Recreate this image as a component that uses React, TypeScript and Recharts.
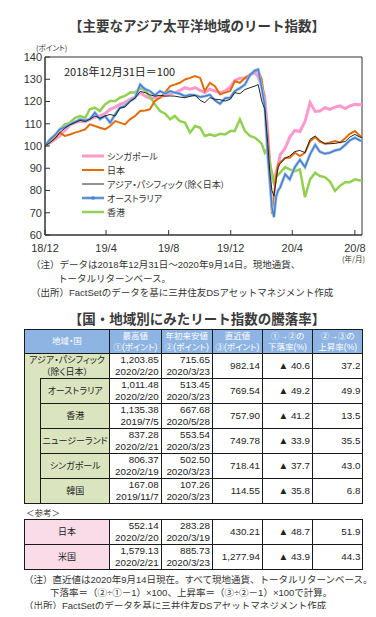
import React from 'react';
import { LineChart, Line, XAxis, YAxis, Legend, ReferenceArea } from 'recharts';

const FONT = "'Noto Sans CJK JP', 'Noto Sans', sans-serif";
// Latin first so that small multi-line cells keep compact line boxes
const TEXT_FONT = "'Liberation Sans', 'Noto Sans CJK JP', sans-serif";

// days since 2018/12/31 (index = 100 on that day)
const days = [
  0, 10, 20, 29, 39, 49, 59, 69, 79, 88,
  98, 108, 118, 128, 138, 147, 157, 167, 177, 187,
  197, 206, 216, 226, 236, 246, 255, 265, 275, 285,
  295, 305, 314, 324, 334, 344, 354, 364, 373, 383,
  393, 403, 413, 419, 426, 432, 438, 442, 446, 450,
  454, 458, 462, 472, 481, 491, 501, 511, 521, 531,
  540, 550, 560, 570, 580, 590, 599, 609, 619, 623,
];

const singapore = [
  100, 101.5, 103, 104.5, 107, 109.5, 110.5, 111.2, 110.8, 112,
  113, 113.5, 114.5, 116.5, 117.5, 118.7, 119.5, 121, 122, 124,
  122.4, 121.5, 121.7, 122, 122.8, 123.5, 124, 125, 126.2, 125.5,
  126.2, 125, 124, 125.5, 124.7, 124, 124.7, 126.5, 129.5, 130.5,
  130.5, 132, 133, 131, 127, 122, 105, 92, 86, 83.5,
  88, 91, 96, 99, 104, 107, 106.5, 111, 119.5, 115.5,
  115.7, 117.2, 116.5, 117.5, 118, 116.8, 118, 118.7, 118.5, 118.7,
];

const japan = [
  100, 102, 103.7, 106, 104.5, 105.2, 106, 106.7, 107.5, 109.7,
  109, 108.2, 107.5, 109, 111.2, 110.5, 109.7, 112, 113.5, 115.7,
  116, 116.5, 120.2, 121.7, 124, 126.9, 127.6, 128.4, 129.9, 130.6,
  131.4, 130.6, 124.7, 128.4, 126.9, 123.2, 124, 124.7, 129.1, 128.4,
  130.6, 132, 133.6, 134, 130, 118.7, 103.7, 85, 69.5, 78,
  85.8, 91.8, 92.5, 94.7, 94.7, 97, 95.5, 97, 102.2, 104,
  102, 101, 101.6, 102.2, 101.6, 103.5, 105.5, 106.7, 104.5, 104,
];

const asiaPacific = [
  100, 101.5, 103.5, 106, 108, 109.5, 110.5, 111.5, 111, 112,
  113.5, 112.5, 113.5, 114.2, 113.5, 117, 117.5, 120, 121.5, 124.5,
  124, 123, 122.4, 122.8, 122.4, 122.5, 122.4, 122, 121.7, 122.3,
  122.8, 120.5, 119.5, 121.7, 121, 120.8, 120.2, 121, 124, 123.5,
  125.4, 126.2, 127, 127.6, 120.2, 116.5, 100.8, 88, 80, 77.5,
  84.3, 90.3, 92, 94.5, 95.5, 97.5, 98, 97, 103, 104.5,
  102.5, 101, 101, 101.2, 101.6, 102, 104, 105.2, 104, 103.8,
];

const australia = [
  100, 103, 105, 107.5, 108.5, 109.7, 110.8, 112, 111.5, 112,
  115, 112, 113.5, 110.5, 114.2, 117.2, 118, 120.2, 121.7, 127.6,
  125.5, 124.7, 122.8, 124.7, 123.5, 124.7, 124, 123.5, 122.4, 123,
  122.8, 122, 122.4, 123, 120.5, 119, 121.5, 121.7, 124.7, 126,
  127.6, 132, 134, 134.4, 126, 118, 95, 84, 72.4, 68,
  77, 80, 81.3, 87.3, 85, 90.5, 93.8, 90.5, 96.3, 100.5,
  97.5, 96.5, 97, 98, 98.5, 100.5, 102.5, 103.7, 102.5, 102.2,
];

const hongKong = [
  100, 101.6, 104.5, 107.5, 109.7, 110.5, 112.7, 113.5, 112.7, 116.5,
  117.2, 115.7, 118.7, 120.2, 120.2, 121.7, 122.5, 124, 124, 126.2,
  124.7, 122.4, 118.7, 115.7, 114.5, 112, 113.5, 111.2, 110.5, 106,
  109, 108.2, 104.5, 105.2, 104.5, 105.5, 105.2, 106.7, 106.7, 112,
  106.7, 104.5, 103.7, 102.5, 101, 97, 99, 92, 88, 84,
  86, 87, 88, 90.5, 89.5, 88.7, 89.5, 77, 85, 88,
  86.5, 86, 84, 79.8, 82.2, 83.7, 83.7, 85, 84.5, 84.5,
];

const xTicks = [0, 120, 243, 365, 486, 609];
const xTickLabels = ['18/12', '19/4', '19/8', '19/12', '20/4', '20/8'];
const yTicks = [60, 70, 80, 90, 100, 110, 120, 130, 140];

// table
const headers = ['地域・国', '最高値\n①(ポイント)', '年初来安値\n②(ポイント)', '直近値\n③(ポイント)', '①→②の\n下落率(%)', '②→③の\n上昇率(%)'];
const regions = ['アジア・パシフィック\n（除く日本）', 'オーストラリア', '香港', 'ニュージーランド', 'シンガポール', '韓国', '日本', '米国'];
const highs = ['1,203.85', '1,011.48', '1,135.38', '837.28', '806.37', '167.08', '552.14', '1,579.13'];
const highDates = ['2020/2/20', '2020/2/20', '2019/7/5', '2020/2/21', '2020/2/19', '2019/11/7', '2020/2/20', '2020/2/21'];
const lows = ['715.65', '513.45', '667.68', '553.54', '502.50', '107.26', '283.28', '885.73'];
const lowDates = ['2020/3/23', '2020/3/23', '2020/5/28', '2020/3/23', '2020/3/23', '2020/3/23', '2020/3/19', '2020/3/23'];
const latests = ['982.14', '769.54', '757.90', '749.78', '718.41', '114.55', '430.21', '1,277.94'];
const drops = ['▲ 40.6', '▲ 49.2', '▲ 41.2', '▲ 33.9', '▲ 37.7', '▲ 35.8', '▲ 48.7', '▲ 43.9'];
const rises = ['37.2', '49.9', '13.5', '35.5', '43.0', '6.8', '51.9', '44.3'];

const series = [
  { key: 'sg', name: 'シンガポール', color: '#ff99cc', width: 3 },
  { key: 'jp', name: '日本', color: '#e36c09', width: 2 },
  { key: 'ap', name: 'アジア・パシフィック（除く日本）', color: '#262626', width: 1 },
  { key: 'au', name: 'オーストラリア', color: '#4a7fd0', width: 1.5 },
  { key: 'hk', name: '香港', color: '#92d050', width: 2.5 },
];

const data = days.map((day, i) => ({
  day,
  sg: singapore[i],
  jp: japan[i],
  ap: asiaPacific[i],
  au: australia[i],
  hk: hongKong[i],
}));

const LegendBox = () => (
  <div style={{ fontFamily: TEXT_FONT, fontSize: 9, color: '#333', fontFeatureSettings: '"palt"' }}>
    {series.map((s) => (
      <div key={s.key} style={{ height: 14, display: 'flex', alignItems: 'center' }}>
        <svg width={22} height={8} style={{ marginRight: 3 }}>
          {s.key === 'au' && <line x1={0} y1={4} x2={22} y2={4} stroke="#9dc3e6" strokeWidth={3} />}
          <line x1={0} y1={4} x2={22} y2={4} stroke={s.color} strokeWidth={s.width} />
          {s.key === 'au' && <rect x={9.5} y={2.5} width={3} height={3} fill={s.color} />}
        </svg>
        <span>{s.name}</span>
      </div>
    ))}
  </div>
);

const border = '1px solid #1a1a1a';
const green = '#dae5c0';
const pink = '#fadbe8';
const colWidths = [16.4, 68.6, 51.7, 51.3, 50, 50, 50.4];

const headCell: React.CSSProperties = {
  border,
  background: '#8db4e2',
  color: '#fff',
  fontSize: 8.5,
  fontWeight: 'normal',
  lineHeight: '11px',
  whiteSpace: 'pre',
  textAlign: 'center',
  padding: 0,
  fontFeatureSettings: '"palt"',
};
const nameCell: React.CSSProperties = {
  border,
  background: green,
  fontSize: 9,
  lineHeight: '12px',
  whiteSpace: 'pre',
  textAlign: 'center',
  padding: 0,
  fontFeatureSettings: '"palt"',
};
const numCell: React.CSSProperties = {
  border,
  background: '#fff',
  fontSize: 9.8,
  lineHeight: '12px',
  whiteSpace: 'pre',
  textAlign: 'right',
  padding: '0 2px 0 0',
};

const values = (i: number) => (
  <>
    <td style={numCell}>{highs[i]}<br />{highDates[i]}</td>
    <td style={numCell}>{lows[i]}<br />{lowDates[i]}</td>
    <td style={numCell}>{latests[i]}</td>
    <td style={numCell}>{drops[i]}</td>
    <td style={numCell}>{rises[i]}</td>
  </>
);

const Cols = () => (
  <colgroup>
    {colWidths.map((w, i) => <col key={i} style={{ width: w }} />)}
  </colgroup>
);

const tableStyle: React.CSSProperties = {
  position: 'absolute',
  left: 24,
  width: 339,
  borderCollapse: 'collapse',
  tableLayout: 'fixed',
  color: '#222',
  fontFamily: TEXT_FONT,
};

const noteStyle: React.CSSProperties = {
  position: 'absolute',
  fontFamily: TEXT_FONT,
  fontSize: 9.5,
  lineHeight: '13px',
  color: '#333',
  whiteSpace: 'nowrap',
};

const tickStyle = { fill: '#333', fontSize: 11, fontFamily: TEXT_FONT };

export default function App() {
  const drawOrder = ['sg', 'hk', 'jp', 'au', 'ap'];
  return (
    <div style={{ position: 'relative', width: 376, height: 617, margin: -8, background: '#fff', fontFamily: FONT, color: '#333', overflow: 'hidden' }}>
      <div style={{ position: 'absolute', left: 9, top: 15, width: 376, textAlign: 'center', fontSize: 13.5, fontWeight: 'bold', color: '#3a3a3a', lineHeight: '20px' }}>
        【主要なアジア太平洋地域のリート指数】
      </div>

      <div style={{ position: 'absolute', left: 0, top: 0 }}>
        <LineChart width={376} height={265} data={data} margin={{ top: 57, right: 14, bottom: 0, left: 10 }}>
          <XAxis
            type="number"
            dataKey="day"
            domain={[0, 623]}
            ticks={xTicks}
            interval={0}
            tickFormatter={(v: number) => xTickLabels[xTicks.indexOf(v)]}
            height={30}
            tickSize={-5}
            tickMargin={14}
            axisLine={{ stroke: '#333' }}
            tickLine={{ stroke: '#333' }}
            tick={tickStyle}
          />
          <YAxis
            type="number"
            domain={[60, 140]}
            ticks={yTicks}
            interval={0}
            width={35}
            tickSize={-5}
            tickMargin={8}
            axisLine={{ stroke: '#333' }}
            tickLine={{ stroke: '#333' }}
            tick={tickStyle}
          />
          {drawOrder.map((k) => {
            const s = series.find((x) => x.key === k)!;
            if (k === 'au') {
              return [
                <Line key="au-halo" type="linear" dataKey="au" stroke="#9dc3e6" strokeWidth={3} dot={false} isAnimationActive={false} legendType="none" />,
                <Line key="au" type="linear" dataKey="au" name={s.name} stroke={s.color} strokeWidth={s.width} dot={false} isAnimationActive={false} />,
              ];
            }
            return <Line key={k} type="linear" dataKey={k} name={s.name} stroke={s.color} strokeWidth={s.width} dot={false} isAnimationActive={false} />;
          })}
          <ReferenceArea x1={0} x2={623} y1={60} y2={140} fill="none" stroke="#333" strokeWidth={1} />
          <Legend layout="vertical" align="center" verticalAlign="middle" wrapperStyle={{ left: 82, top: 149, width: 220 }} content={() => <LegendBox />} />
        </LineChart>
      </div>

      <div style={{ position: 'absolute', left: 36, top: 42, fontSize: 7.5, color: '#333', fontFeatureSettings: '"palt"' }}>(ポイント)</div>
      <div style={{ position: 'absolute', left: 64, top: 63, fontSize: 11, color: '#222' }}>2018年12月31日＝100</div>
      <div style={{ position: 'absolute', left: 342, top: 253, fontSize: 7.5, color: '#333', fontFeatureSettings: '"palt"' }}>(年/月)</div>

      <div style={{ ...noteStyle, left: 31, top: 258 }}>（注）データは2018年12月31日～2020年9月14日。現地通貨、</div>
      <div style={{ ...noteStyle, left: 58, top: 272 }}>トータルリターンベース。</div>
      <div style={{ ...noteStyle, left: 31, top: 286 }}>（出所）FactSetのデータを基に三井住友DSアセットマネジメント作成</div>

      <div style={{ position: 'absolute', left: 9, top: 308, width: 376, textAlign: 'center', fontSize: 13.5, fontWeight: 'bold', color: '#3a3a3a', lineHeight: '20px' }}>
        【国・地域別にみたリート指数の騰落率】
      </div>

      <table style={{ ...tableStyle, top: 329 }}>
        <Cols />
        <tbody>
          <tr style={{ height: 24 }}>
            <th colSpan={2} style={headCell}>{headers[0]}</th>
            {headers.slice(1).map((h) => <th key={h} style={headCell}>{h}</th>)}
          </tr>
          <tr style={{ height: 24.7 }}>
            <td colSpan={2} style={{ ...nameCell, borderBottom: 'none' }}>{regions[0]}</td>
            {values(0)}
          </tr>
          {[1, 2, 3, 4, 5].map((i) => (
            <tr key={i} style={{ height: 24.7 }}>
              {i === 1 && <td rowSpan={5} style={{ ...nameCell, borderTop: 'none' }} />}
              <td style={nameCell}>{regions[i]}</td>
              {values(i)}
            </tr>
          ))}
        </tbody>
      </table>

      <div style={{ position: 'absolute', left: 26, top: 506, fontFamily: TEXT_FONT, fontSize: 8.5, color: '#333', fontFeatureSettings: '"palt"' }}>＜参考＞</div>

      <table style={{ ...tableStyle, top: 519 }}>
        <Cols />
        <tbody>
          {[6, 7].map((i) => (
            <tr key={i} style={{ height: 24.5 }}>
              <td colSpan={2} style={{ ...nameCell, background: pink }}>{regions[i]}</td>
              {values(i)}
            </tr>
          ))}
        </tbody>
      </table>

      <div style={{ ...noteStyle, left: 24, top: 573 }}>（注）直近値は2020年9月14日現在。すべて現地通貨、トータルリターンベース。</div>
      <div style={{ ...noteStyle, left: 50, top: 586 }}>下落率＝（②÷①－1）×100、上昇率＝（③÷②－1）×100で計算。</div>
      <div style={{ ...noteStyle, left: 24, top: 599 }}>（出所）FactSetのデータを基に三井住友DSアセットマネジメント作成</div>
    </div>
  );
}
